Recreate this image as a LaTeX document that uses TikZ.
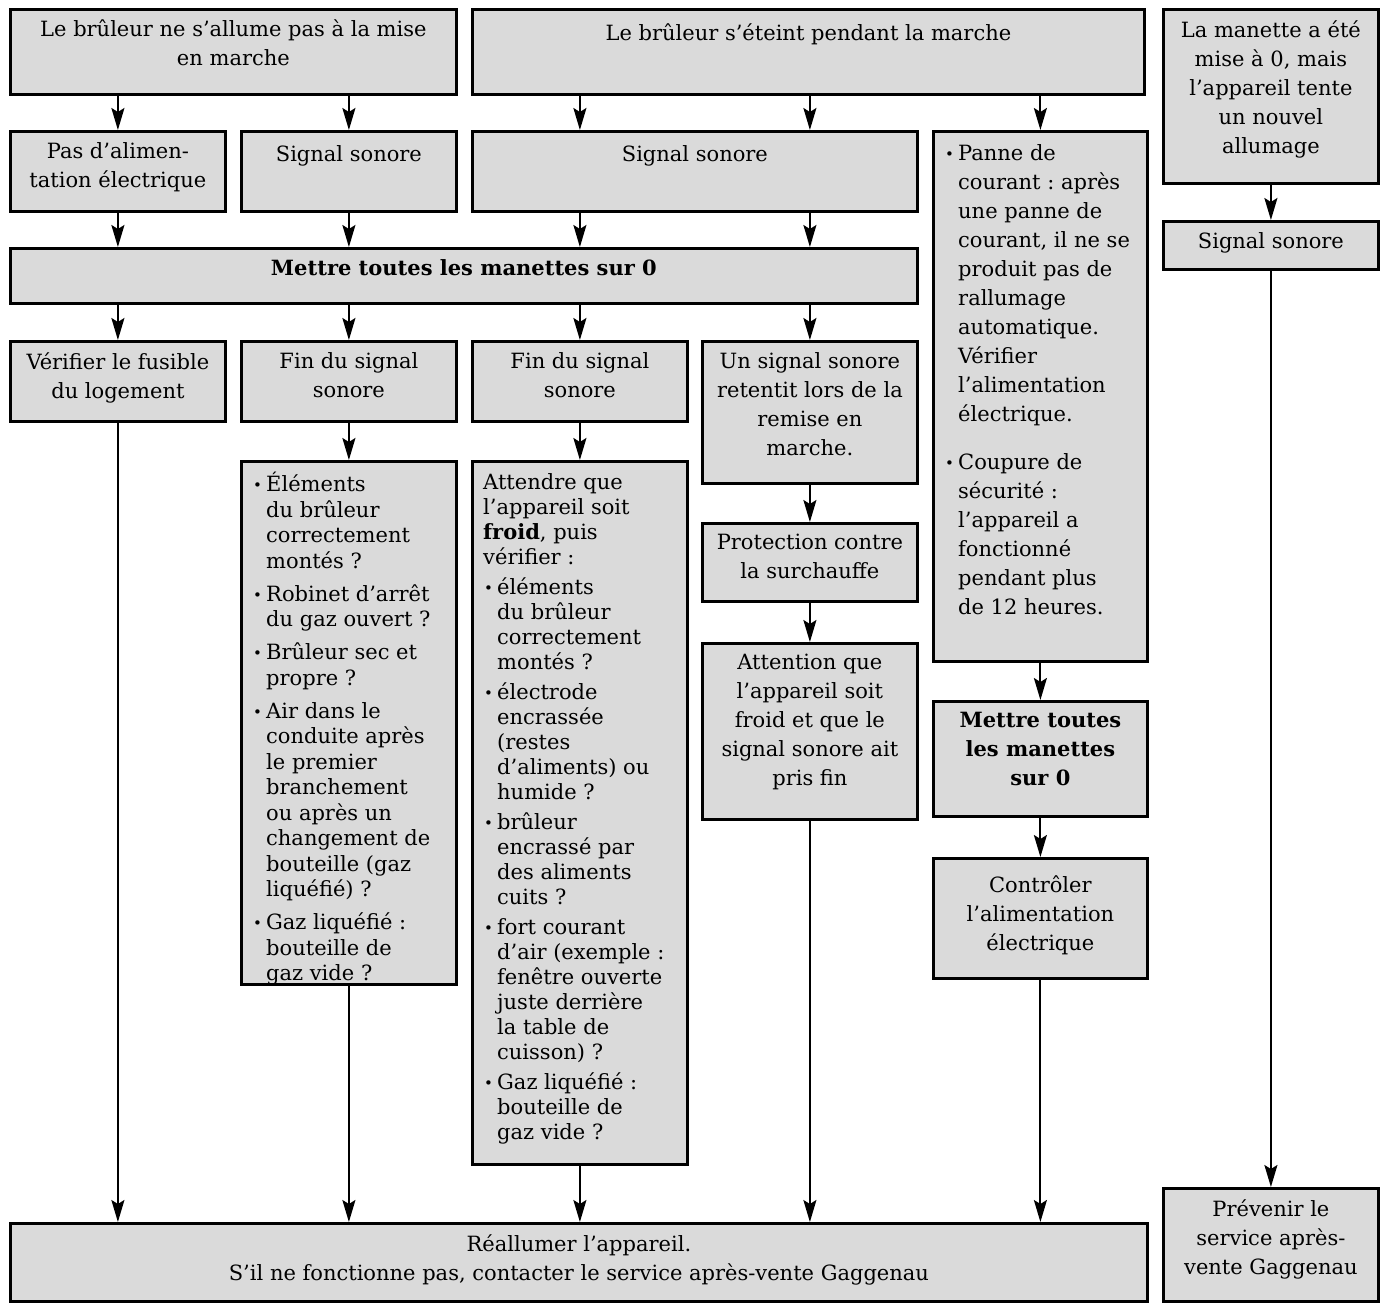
\documentclass[tikz,border=0pt]{standalone}
\usepackage{fontspec}
\setmainfont{DejaVu Serif}
\usepackage{tikz}
\usetikzlibrary{positioning,arrows.meta}
\usepackage{xcolor}
\definecolor{panel}{HTML}{DADADA}
\newcommand{\bul}{\makebox[14pt][l]{\hspace{1pt}\raisebox{1pt}{\fontsize{15}{15}\selectfont •}}}
\newcommand{\ind}{\hspace*{14pt}}
\frenchspacing

\begin{document}
\begin{tikzpicture}[x=1pt, y=-1pt,
    box/.style={draw, fill=panel, line width=2.8pt, anchor=north west, inner sep=0pt},
    txt/.style={anchor=north, align=center, inner sep=0pt,
                font=\fontsize{21}{29}\selectfont, execute at begin node=\strut},
    lst/.style={anchor=north west, align=left, inner sep=0pt,
                font=\fontsize{21}{25.5}\selectfont, execute at begin node=\strut},
    arr/.style={line width=2pt, -{Stealth[length=22pt, width=13pt, inset=4pt]}}]
  \useasboundingbox (0,0) rectangle (1381,1307);

  % first row
  \node[box, minimum width=446, minimum height=85] (noIgn) at (9,8) {};
  \node[txt, below=12pt of noIgn.north] (noIgnT) {Le brûleur ne s'allume pas à la mise\\en marche};
  \node[box, minimum width=672, minimum height=85] (offRun) at (471,8) {};
  \node[txt, below=12pt of offRun.north] (offRunT) {Le brûleur s'éteint pendant la marche};
  \node[box, minimum width=215, minimum height=174] (retry) at (1162,8) {};
  \node[txt, below=12pt of retry.north] (retryT) {La manette a été\\mise à 0, mais\\l'appareil tente\\un nouvel\\allumage};

  % second row
  \node[box, minimum width=215, minimum height=80] (noPow) at (9,130) {};
  \node[txt, below=12pt of noPow.north] (noPowT) {Pas d'alimen-\\tation électrique};
  \node[box, minimum width=215, minimum height=80] (sigA) at (240,130) {};
  \node[txt, below=11pt of sigA.north] (sigAT) {Signal sonore};
  \node[box, minimum width=445, minimum height=80] (sigB) at (471,130) {};
  \node[txt, below=11pt of sigB.north] (sigBT) {Signal sonore};
  \node[box, minimum width=214, minimum height=530] (panne) at (932,130) {};
  \node[lst, font=\fontsize{21}{29}\selectfont, below right=14pt and 12pt of panne.north west] (panneT)
    {\bul Panne de\\ \ind courant : après\\ \ind une panne de\\ \ind courant, il ne se\\
     \ind produit pas de\\ \ind rallumage\\ \ind automatique.\\ \ind Vérifier\\
     \ind l'alimentation\\ \ind électrique.\\[19pt]
     \bul Coupure de\\ \ind sécurité :\\ \ind l'appareil a\\ \ind fonctionné\\
     \ind pendant plus\\ \ind de 12 heures.};
  \node[box, minimum width=215, minimum height=48] (sigC) at (1162,220) {};
  \node[txt, below=8pt of sigC.north] (sigCT) {Signal sonore};

  % all knobs to zero
  \node[box, minimum width=907, minimum height=55] (allZero) at (9,247) {};
  \node[txt, below=8pt of allZero.north] (allZeroT) {\textbf{Mettre toutes les manettes sur 0}};

  % fourth row
  \node[box, minimum width=215, minimum height=80] (fuse) at (9,340) {};
  \node[txt, below=12pt of fuse.north] (fuseT) {Vérifier le fusible\\du logement};
  \node[box, minimum width=215, minimum height=80] (endA) at (240,340) {};
  \node[txt, below=12pt of endA.north] (endAT) {Fin du signal\\sonore};
  \node[box, minimum width=215, minimum height=80] (endB) at (471,340) {};
  \node[txt, below=12pt of endB.north] (endBT) {Fin du signal\\sonore};
  \node[box, minimum width=215, minimum height=142] (restart) at (701,340) {};
  \node[txt, below=12pt of restart.north] (restartT) {Un signal sonore\\retentit lors de la\\remise en\\marche.};

  % checklists
  \node[box, minimum width=215, minimum height=523] (checkA) at (240,460) {};
  \node[lst, below right=12pt and 12pt of checkA.north west] (checkAT)
    {\bul Éléments\\ \ind du brûleur\\ \ind correctement\\ \ind montés ?\\[7.5pt]
     \bul Robinet d'arrêt\\ \ind du gaz ouvert ?\\[7.5pt]
     \bul Brûleur sec et\\ \ind propre ?\\[7.5pt]
     \bul Air dans le\\ \ind conduite après\\ \ind le premier\\ \ind branchement\\
     \ind ou après un\\ \ind changement de\\ \ind bouteille (gaz\\ \ind liquéfié) ?\\[7.5pt]
     \bul Gaz liquéfié :\\ \ind bouteille de\\ \ind gaz vide ?};
  \node[box, minimum width=215, minimum height=703] (checkB) at (471,460) {};
  \node[lst, font=\fontsize{21}{25}\selectfont, below right=13pt and 12pt of checkB.north west] (checkBT)
    {Attendre que\\l'appareil soit\\\textbf{froid}, puis\\vérifier :\\[5pt]
     \bul éléments\\ \ind du brûleur\\ \ind correctement\\ \ind montés ?\\[5pt]
     \bul électrode\\ \ind encrassée\\ \ind (restes\\ \ind d'aliments) ou\\ \ind humide ?\\[5pt]
     \bul brûleur\\ \ind encrassé par\\ \ind des aliments\\ \ind cuits ?\\[5pt]
     \bul fort courant\\ \ind d'air (exemple :\\ \ind fenêtre ouverte\\ \ind juste derrière\\
     \ind la table de\\ \ind cuisson) ?\\[5pt]
     \bul Gaz liquéfié :\\ \ind bouteille de\\ \ind gaz vide ?};

  % overheating branch
  \node[box, minimum width=215, minimum height=78] (overheat) at (701,522) {};
  \node[txt, below=12pt of overheat.north] (overheatT) {Protection contre\\la surchauffe};
  \node[box, minimum width=215, minimum height=176] (cool) at (701,642) {};
  \node[txt, below=12pt of cool.north] (coolT) {Attention que\\l'appareil soit\\froid et que le\\signal sonore ait\\pris fin};

  % power branch
  \node[box, minimum width=214, minimum height=115] (allZeroB) at (932,700) {};
  \node[txt, below=12pt of allZeroB.north] (allZeroBT) {\textbf{Mettre toutes}\\\textbf{les manettes}\\\textbf{sur 0}};
  \node[box, minimum width=214, minimum height=120] (power) at (932,857) {};
  \node[txt, below=18pt of power.north] (powerT) {Contrôler\\l'alimentation\\électrique};

  % last row
  \node[box, minimum width=1137, minimum height=78] (relight) at (9,1222) {};
  \node[txt, below=12pt of relight.north] (relightT) {Réallumer l'appareil.\\S'il ne fonctionne pas, contacter le service après-vente Gaggenau};
  \node[box, minimum width=215, minimum height=113] (service) at (1162,1187) {};
  \node[txt, below=12pt of service.north] (serviceT) {Prévenir le\\service après-\\vente Gaggenau};

  % connectors
  \draw[arr] (noIgn.south -| noPow.north) -- (noPow.north);
  \draw[arr] (noIgn.south -| sigA.north) -- (sigA.north);
  \draw[arr] (offRun.south -| endB.north) -- (sigB.north -| endB.north);
  \draw[arr] (offRun.south -| restart.north) -- (sigB.north -| restart.north);
  \draw[arr] (offRun.south -| panne.north) -- (panne.north);
  \draw[arr] (retry.south) -- (sigC.north);
  \draw[arr] (noPow.south) -- (allZero.north -| noPow.south);
  \draw[arr] (sigA.south) -- (allZero.north -| sigA.south);
  \draw[arr] (sigB.south -| endB.north) -- (allZero.north -| endB.north);
  \draw[arr] (sigB.south -| restart.north) -- (allZero.north -| restart.north);
  \foreach \n in {fuse,endA,endB,restart}
    \draw[arr] (allZero.south -| \n.north) -- (\n.north);
  \draw[arr] (endA.south) -- (checkA.north);
  \draw[arr] (endB.south) -- (checkB.north);
  \draw[arr] (restart.south) -- (overheat.north);
  \draw[arr] (overheat.south) -- (cool.north);
  \draw[arr] (panne.south) -- (allZeroB.north);
  \draw[arr] (allZeroB.south) -- (power.north);
  \foreach \n in {fuse,checkA,checkB,cool,power}
    \draw[arr] (\n.south) -- (relight.north -| \n.south);
  \draw[arr] (sigC.south) -- (service.north);
\end{tikzpicture}
\end{document}
